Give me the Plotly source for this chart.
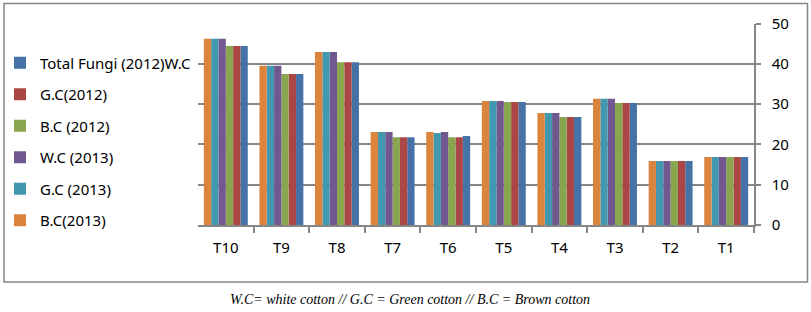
import plotly.graph_objects as go

categories = ["T1", "T2", "T3", "T4", "T5", "T6", "T7", "T8", "T9", "T10"]
wc_2012 = [16.9, 15.9, 30.3, 26.8, 30.5, 22.1, 21.8, 40.4, 37.5, 44.4]
gc_2012 = [16.9, 15.9, 30.3, 26.8, 30.5, 21.8, 21.8, 40.4, 37.5, 44.4]
bc_2012 = [16.9, 15.9, 30.3, 26.8, 30.5, 21.8, 21.8, 40.4, 37.5, 44.4]
wc_2013 = [16.9, 15.9, 31.3, 27.8, 30.8, 23.1, 23.1, 42.9, 39.5, 46.2]
gc_2013 = [16.9, 15.9, 31.3, 27.8, 30.8, 22.8, 23.1, 42.9, 39.5, 46.2]
bc_2013 = [16.9, 15.9, 31.3, 27.8, 30.8, 23.1, 23.1, 42.9, 39.5, 46.2]
series_names = ["Total Fungi (2012)W.C", "G.C(2012)", "B.C (2012)",
                "W.C (2013)", "G.C (2013)", "B.C(2013)"]
series_values = [wc_2012, gc_2012, bc_2012, wc_2013, gc_2013, bc_2013]
colors = ["#4572A7", "#AA4643", "#89A54E", "#71588F", "#4198AF", "#DB843D"]
y_ticks = [0, 10, 20, 30, 40, 50]
caption = "W.C= white cotton // G.C = Green cotton // B.C = Brown cotton"

W, H = 811, 312
fig = go.Figure()
for i, (name, vals, col) in enumerate(zip(series_names, series_values, colors)):
    fig.add_trace(go.Bar(x=categories, y=vals, name=name, marker_color=col,
                         marker_line_width=0, legendgroup=f"g{i}"))

x0, x1 = 198, 754
ytop, ybot = 23.5, 225
fig.update_layout(
    width=W, height=H,
    margin=dict(l=0, r=0, t=0, b=0),
    paper_bgcolor="white", plot_bgcolor="white",
    barmode="group", bargap=0.21, bargroupgap=0,
    font=dict(family="Noto Sans", size=15, color="#000000"),
    showlegend=True,
    legend=dict(x=0.0, y=(H - 46.5) / H, xanchor="left", yanchor="top",
                traceorder="grouped", tracegroupgap=9,
                font=dict(family="Noto Sans", size=15, color="#000000"),
                bgcolor="rgba(0,0,0,0)"),
    xaxis=dict(domain=[x0 / W, x1 / W], autorange="reversed",
               showline=True, linecolor="#868686", linewidth=1.5,
               ticks="outside", tickson="boundaries", ticklen=6,
               tickcolor="#868686", tickwidth=1.5, tickangle=0,
               ticklabelstandoff=8, automargin=False, showgrid=False,
               tickfont=dict(size=15)),
    yaxis=dict(domain=[(H - ybot) / H, (H - ytop) / H], range=[0, 50],
               side="right", tickvals=y_ticks, showline=True,
               linecolor="#868686", linewidth=1.5,
               ticks="outside", ticklen=5, tickcolor="#868686", tickwidth=1.5,
               showgrid=True, gridcolor="#868686", gridwidth=1.5,
               zeroline=False, ticklabelstandoff=8, automargin=False,
               tickfont=dict(size=15)),
)
fig.add_shape(type="rect", xref="paper", yref="paper",
              x0=4 / W, x1=807.5 / W, y0=(H - 282) / H, y1=(H - 3.5) / H,
              line=dict(color="#868686", width=1.5), fillcolor="rgba(0,0,0,0)")
fig.add_annotation(text=caption, xref="paper", yref="paper",
                   x=410 / W, y=(H - 299) / H, xanchor="center", yanchor="middle",
                   showarrow=False,
                   font=dict(family="Liberation Serif", size=14, color="#000000",
                             style="italic"))
fig.write_html("out.html", config={"displayModeBar": False},
               post_script="document.body.style.margin='0px';document.body.style.overflow='hidden';")
